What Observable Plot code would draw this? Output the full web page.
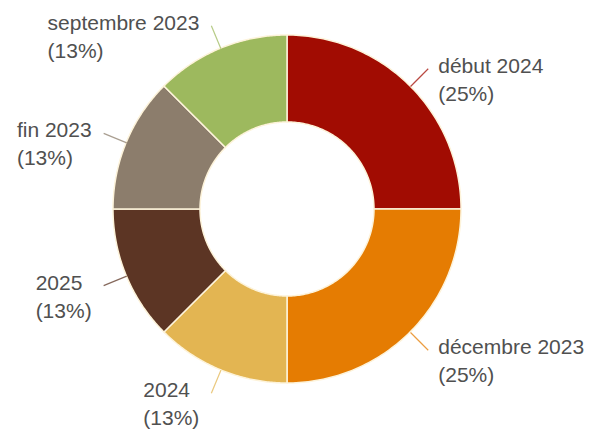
<!DOCTYPE html>
<html>
<head>
<meta charset="utf-8">
<script src="https://cdn.jsdelivr.net/npm/d3@7"></script>
<script src="https://cdn.jsdelivr.net/npm/@observablehq/plot@0.6"></script>
<style>
  html, body { margin: 0; padding: 0; background: #ffffff; }
</style>
</head>
<body>
<div id="chart"></div>
<script>
// ---- data (clockwise from 12 o'clock) ----
const categories = ["début 2024", "décembre 2023", "2024", "2025", "fin 2023", "septembre 2023"];
const values = [2, 2, 1, 1, 1, 1];
const colors = ["#a10c02", "#e57c02", "#e3b552", "#5c3524", "#8c7d6c", "#9db95e"];

// ---- layout ----
const W = 600, H = 430;
const cx = 287, cy = 209;          // pixel centre
const rOuter = 174, rInner = 87;
const leader = 25;
const fontSize = 21, lineHeight = 1.33;
const fontFamily = "Arial, 'Liberation Sans', sans-serif";

const total = d3.sum(values);
const arcs = d3.pie().sort(null).value(d => d)(values);

// sector polygons (data units = pixels, y up, centred on pie centre)
const sectorPts = [];
arcs.forEach((a, i) => {
  const n = 90;
  for (let k = 0; k <= n; k++) {
    const t = a.startAngle + (a.endAngle - a.startAngle) * k / n;
    sectorPts.push({
      category: categories[i],
      x1: rInner * Math.sin(t), y1: rInner * Math.cos(t),
      x2: rOuter * Math.sin(t), y2: rOuter * Math.cos(t)
    });
  }
});

// text measuring for left-aligned blocks
const ctx = document.createElement("canvas").getContext("2d");
ctx.font = `${fontSize}px ${fontFamily}`;

const labels = arcs.map((a, i) => {
  const mid = (a.startAngle + a.endAngle) / 2;
  const pct = Math.round(values[i] / total * 100) + "%";
  const text = categories[i] + "\n(" + pct + ")";
  const x1 = rOuter * Math.sin(mid), y1 = rOuter * Math.cos(mid);
  const x2 = (rOuter + leader) * Math.sin(mid), y2 = (rOuter + leader) * Math.cos(mid);
  const width = Math.max(...text.split("\n").map(s => ctx.measureText(s).width));
  const right = mid < Math.PI;
  return {
    category: categories[i], text, x1, y1, x2, y2,
    tx: right ? x2 + 10 : x2 - 12 - width,
    ty: y2
  };
});

const chart = Plot.plot({
  width: W,
  height: H,
  margin: 0,
  x: {domain: [-cx, W - cx], axis: null},
  y: {domain: [-(H - cy), cy], axis: null},
  color: {domain: categories, range: colors},
  style: {background: "#ffffff", fontFamily},
  marks: [
    Plot.area(sectorPts, {
      x1: "x1", y1: "y1", x2: "x2", y2: "y2",
      z: "category", fill: "category",
      stroke: "#fdf3da", strokeWidth: 1.5
    }),
    Plot.link(labels, {
      x1: "x1", y1: "y1", x2: "x2", y2: "y2",
      stroke: "category", strokeOpacity: 0.75, strokeWidth: 1.2
    }),
    Plot.text(labels, {
      x: "tx", y: "ty", text: "text",
      textAnchor: "start", lineAnchor: "top",
      lineHeight,
      dy: 4 - 0.71 * lineHeight * fontSize,
      fontSize, fill: "#505050"
    })
  ]
});

document.getElementById("chart").appendChild(chart);
</script>
</body>
</html>
